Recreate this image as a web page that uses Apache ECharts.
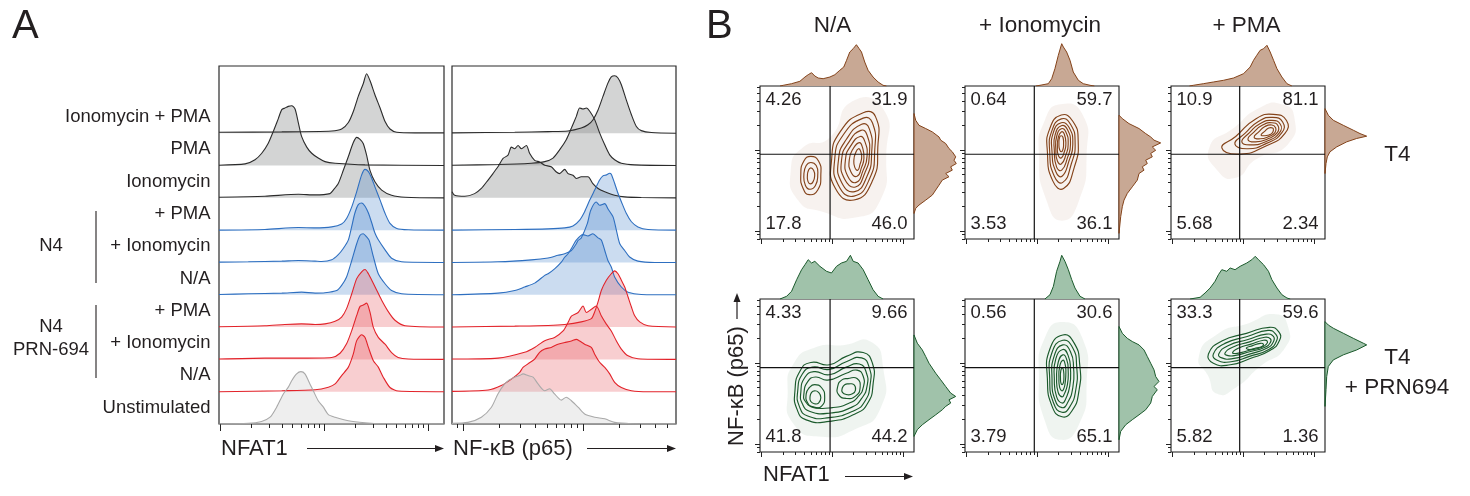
<!DOCTYPE html>
<html><head><meta charset="utf-8"><title>NFAT1 / NF-kB</title>
<script src="https://cdn.jsdelivr.net/npm/echarts@6.0.0/dist/echarts.min.js"></script>
<style>html,body{margin:0;padding:0;background:#fff;}#chart{width:1470px;height:496px;}</style>
</head><body><div id="chart"></div>
<script>
// ================= DATA =================
// Panel A: rows listed bottom -> top
const rowLabels = ['Unstimulated','N/A','+ Ionomycin','+ PMA','N/A','+ Ionomycin','+ PMA','Ionomycin','PMA','Ionomycin + PMA'];
const rowGroup  = ['unstim','prn','prn','prn','n4','n4','n4','ctl','ctl','ctl'];
// histogram heights ([position % of axis, height; 10 = one row])
const nfat1Hist = [
 [[0,0],[13,0.2],[18.9,0.8],[22.7,2.1],[25.6,5.2],[28.6,9.3],[30.8,11.4],[32.3,13.4],[34.5,15.5],[36.4,16.2],[38.2,15.5],[40.4,12.4],[41.9,10.3],[44.1,7.2],[46.4,5.2],[48.6,2.9],[51.6,2.1],[57.5,1.0],[64.9,0.4],[72.3,0.1],[100,0]],
 [[0,0],[27.9,0.3],[42.7,0.6],[48.6,1.4],[51.6,2.4],[54.5,5.0],[57.5,7.6],[59.7,11.7],[61.2,15.8],[63.4,17.6],[64.9,16.8],[66.4,13.7],[68.6,9.6],[70.8,7.6],[73.0,4.5],[76.0,1.3],[79.7,0.2],[100,0]],
 [[0,0.1],[20.4,0.4],[36.7,0.4],[50.1,0.6],[53.8,1.9],[56.7,4.8],[59,8.9],[61.2,13.6],[62.7,16.4],[64.1,16.8],[65.6,17.4],[67.1,14.6],[68.6,9.9],[70.8,6.8],[73.8,4.7],[76.7,2.1],[79.6,0.6],[84.1,0.1],[100,0]],
 [[0,0.1],[20.4,0.4],[29.3,0.8],[36.7,1.0],[42.7,0.8],[47.1,1.0],[51.6,1.8],[54.5,3.1],[56.7,5.7],[59,10.3],[61.2,15],[63.4,17.1],[64.9,17.8],[66.4,16.5],[67.9,14.5],[70.1,11.4],[72.3,8.3],[75.3,4.7],[78.2,2.1],[82.7,0.4],[100,0]],
 [[0,0.1],[13,0.3],[27.9,0.5],[36.7,0.8],[42.7,0.5],[47.1,0.6],[52.3,1.3],[54.5,2.9],[56.7,5.5],[59,10.6],[61.2,15.8],[62.7,18.4],[64.1,18.9],[65.6,17.9],[66.7,16.9],[68.6,11.8],[70.8,6.5],[73.8,3.4],[76.7,1.3],[81.2,0.3],[100,0]],
 [[0,0.1],[13,0.2],[27.9,0.4],[35.3,0.6],[42.7,0.4],[45.6,0.3],[50.1,0.8],[53,2.4],[55.3,4.4],[57.5,7],[59,11.2],[60.4,15.3],[61.9,17.9],[63.4,18.4],[64.9,17.4],[66.4,15.3],[67.9,12.2],[69.3,9.1],[70.8,7],[73.8,3.9],[76.7,1.3],[81.2,0.2],[100,0]],
 [[0,0],[20.4,0.2],[35.3,0.8],[42.7,0.7],[50.1,1.0],[54.5,1.9],[56.7,3.6],[59,7.2],[61.2,11.9],[63.4,17.1],[64.9,18.8],[66.4,18.1],[67.9,16],[69.3,13.4],[71.6,9.3],[73.8,5.2],[76,2.1],[79,0.5],[84.1,0.1],[100,0]],
 [[0,0.2],[20.4,0.5],[35.3,1.1],[42.7,0.9],[49.3,1.3],[50.8,2.4],[53,4.4],[55.3,8.6],[57.5,12.8],[59.7,17.1],[61.2,18.7],[62.7,18.1],[64.1,16.8],[65.6,13.2],[67.1,8.5],[69.3,5.0],[72.3,2.4],[76.7,0.8],[82.7,0.2],[100,0]],
 [[0,0.1],[11.6,0.5],[16,1.8],[19,3.8],[21.9,6.9],[24.1,10.5],[26.4,14.6],[27.9,17.3],[29.3,17.8],[30.8,18.3],[32.3,18.5],[33.8,17.5],[35.3,13.1],[36.7,9],[39,5.7],[41.2,3.8],[44.1,2.3],[47.1,1.2],[51.6,0.7],[64.9,0.2],[100,0]],
 [[0,0.3],[27.9,0.4],[50.1,0.7],[54.5,1.3],[57.5,3.3],[59.7,6.7],[61.9,11.4],[64.1,15.3],[65.6,18.4],[67.1,16.3],[69.3,11.9],[71.6,7.8],[73.8,3.6],[76,1.3],[79,0.3],[87.1,0.1],[100,0.1]]
];
const nfkbHist = [
 [[0,0.2],[7.1,0.5],[13.1,2.1],[17.6,5.2],[20.5,9.3],[23.5,12.4],[25.7,13.7],[28,14.5],[30.2,15],[31.7,15.5],[33.9,15],[36.2,14.5],[38.4,12.4],[41.4,10.3],[43.6,10.9],[45.8,9.3],[48.8,7.4],[51,8.3],[53.3,7.2],[56.3,5.2],[59.2,3.1],[63.7,2.1],[68.2,1.6],[72.6,0.5],[80.1,0.1],[100,0]],
 [[0,0.1],[16.1,0.5],[22,1.9],[26.5,3.9],[30.2,6],[31.7,7.5],[33.9,8.6],[36.9,10.1],[39.1,12.2],[41.4,13.2],[44.3,13.7],[47.3,14.7],[50.3,15.2],[53.3,15.7],[55.5,16.2],[57,15.7],[59.2,14.7],[62.2,13.7],[63.7,11.6],[65.9,9.1],[68.2,7.5],[70.4,5.5],[72.6,2.9],[75.6,1.3],[80.1,0.3],[87.5,0],[100,0]],
 [[0,0.1],[20.5,0.4],[32.4,2.2],[36.9,3.7],[41.4,5.8],[45.8,6.8],[49.6,8.8],[51.8,11.4],[53.3,13.4],[56.3,14.5],[58.5,16.5],[60,14.5],[62.2,15.5],[64.4,16.5],[66.7,13.4],[68.9,10.9],[71.1,8.8],[73.4,5.7],[75.6,3.2],[78.6,1.1],[83,0.2],[100,0]],
 [[0,0],[28,0.3],[42.9,0.5],[50.3,0.8],[57.7,1.6],[62.2,2.6],[63.7,4.7],[65.2,7.8],[66.7,11.4],[68.9,14.5],[71.1,16.5],[72.6,17.4],[74.1,16.5],[75.6,14.5],[77.1,12.4],[78.6,9.3],[80.1,6.2],[81.5,3.6],[83.8,1.6],[87.5,0.4],[100,0]],
 [[0,0],[20.5,0.5],[28,1.3],[32.4,2.4],[36.9,3.6],[41.4,6],[42.9,6.5],[45.8,8],[48.8,10.1],[50.3,11.6],[51.8,12.7],[53.3,14.3],[55.5,16.9],[58.5,18.6],[60.7,18.2],[62.9,18.9],[65.2,17.6],[66.7,16.9],[68.2,13.7],[69.6,10.6],[71.1,8.6],[72.6,5.5],[75.6,2.4],[78.6,0.8],[84.5,0.1],[100,0]],
 [[0,0],[20.5,0.2],[35.4,0.8],[42.9,1.4],[47.3,2.2],[50.3,2.7],[53.3,3.7],[55.5,5.8],[56.3,6.8],[57.7,7.6],[60.4,12],[61.9,16.1],[64.4,18.7],[65.9,17.7],[68.2,18.2],[69.6,16.6],[71.9,14.1],[73.4,9.9],[74.9,5.8],[77.1,3.7],[79.3,1.7],[83,0.4],[90.5,0],[100,0]],
 [[0,0],[28,0.2],[42.9,0.4],[50.3,0.7],[54,1.3],[57,3.1],[59.2,5.7],[61.5,9.3],[63.7,12.4],[65.9,15.5],[67.4,16.8],[68.9,17.1],[70.4,17.6],[71.1,17.3],[72.6,14.5],[74.1,11.4],[75.6,8.8],[77.8,5.2],[80.1,2.6],[83,1],[87.5,0.2],[100,0]],
 [[0,1.9],[1.2,0.8],[5.7,0.5],[10.1,1.3],[13.1,2.9],[16.1,5.5],[18.3,7.5],[20.5,9.6],[22.8,12.2],[25,13.2],[26.5,15.7],[28,15.2],[29.5,16.2],[31,15.2],[33.2,16.2],[34.7,13.7],[36.9,11.6],[39.1,11.1],[41.4,10.1],[44.3,9.6],[46.6,8],[48,7.5],[50.3,8.8],[51.8,7.5],[54,7],[55.5,6],[57.7,6.5],[60.7,6.5],[62.9,4.4],[65.2,2.9],[68.2,1.9],[72.6,0.8],[77.1,0.3],[84.5,0.1],[100,0]],
 [[0,0.1],[20.5,0.3],[35.4,0.7],[41.4,1.2],[45.1,2.3],[48.1,4.9],[51,8],[53.3,11.6],[55.5,15.2],[57,17.8],[58.5,17.5],[60,17.8],[61.5,16.8],[63.7,14.2],[65.9,10.1],[68.2,6.4],[70.4,3.3],[72.6,1.8],[75.6,0.7],[81.5,0.2],[100,0]],
 [[0,0.1],[28,0.3],[42.9,0.5],[51.8,0.7],[57.7,1.6],[60.7,2.6],[62.9,4.1],[65.2,7.2],[67.4,11.4],[69.6,15.5],[71.1,17.4],[72.6,17.8],[74.1,17.1],[75.6,15],[77.8,10.3],[80.1,5.7],[82.3,2.1],[84.5,0.8],[89,0.2],[100,0]]
];
const tickMultipliers = [1,2,3,4,5,6,7,8,9];   // log-decade tick marks

// Panel B
const colTitles = ['N/A','+ Ionomycin','+ PMA'];
const rowTitles = [['T4'],['T4','+ PRN694']];
// quadrant percentages: [top-left, top-right, bottom-left, bottom-right]
const quadT4 = [['4.26','31.9','17.8','46.0'],['0.64','59.7','3.53','36.1'],['10.9','81.1','5.68','2.34']];
const quadPrn = [['4.33','9.66','41.8','44.2'],['0.56','30.6','3.79','65.1'],['33.3','59.6','5.82','1.36']];
const gateX = [45.5, 45, 44.6];
const gateY = [55.4, 55.1];
// marginal histograms, top: [NFAT1 %, height]; right: [NF-kB %, height]
const topT4 = [
 [[13,0],[15.1,0.7],[20.5,2.3],[25.9,4.7],[29.2,9],[31.3,11.3],[33.5,13.3],[35.6,10],[37.8,8],[41,7.3],[45.4,9],[48.6,11.3],[51.8,15.7],[54.4,19],[56.2,25.7],[58.3,34],[60.5,37.3],[62.6,41.3],[64.4,37.3],[65.9,34],[68,24],[70.2,15.7],[73.4,9],[76.7,4],[79.9,0.7],[82.1,0]],
 [[46,0],[48.7,0.7],[54.1,2.3],[56.3,7.3],[58.4,17.3],[60.6,30.7],[62.8,42.3],[63.9,39],[66,34],[68.2,25.7],[70.3,14],[73.6,5.7],[76.8,2.3],[81.2,0.7],[84,0]],
 [[12,0],[14.5,0.7],[21,2.3],[27.5,4],[34.1,5.7],[40.6,8],[47.1,12.3],[51.4,19],[53.6,25.7],[55.7,30.7],[57.9,35.7],[60.1,37.3],[62.3,40.7],[64.4,34],[66.6,25.7],[68.8,17.3],[72,9],[75.3,2.3],[78.5,0]]
];
const topPrn = [
 [[13,0],[17.3,2.7],[20.5,7.7],[23.8,19.3],[27,29.3],[29.2,34.3],[31.3,39.3],[33.5,36],[35.6,37.7],[38.9,32.7],[43.2,27.7],[46.4,26],[49.7,32.7],[52.9,36],[56.2,37.7],[58.7,43.7],[60.5,37.7],[63.7,36],[67,29.3],[70.2,19.3],[73.4,9.3],[76.7,2.7],[79.9,0]],
 [[51.9,0],[55.2,4.3],[57.4,12.7],[59.5,27.7],[61.7,37.7],[62.8,43.7],[64.9,37.7],[67.1,29.3],[69.3,19.3],[71.4,11],[74.7,2.7],[77.9,0]],
 [[12.4,0],[18.9,1.7],[22.1,6],[25.4,11],[28.6,17.7],[30.8,24.3],[33,29.3],[36.2,27.7],[38.4,31],[41.6,29.3],[44.9,32.7],[49.2,36],[52.5,39.3],[54.7,42.7],[56.8,39.3],[60.1,34.3],[63.3,27.7],[65.5,19.3],[68.8,11],[72,4.3],[75.3,1],[77.4,0]]
];
const rightT4 = [
 [[82,0],[77.6,1.7],[74.3,5],[72.2,11.7],[70,18.3],[66.7,25],[64.6,26.7],[62.4,31.7],[59.1,35],[57,38.3],[53.7,41.7],[51.5,40],[49.3,42.3],[47.2,36.7],[45,38.3],[42.8,31.7],[40.7,35],[38.5,28.3],[35.2,25],[32,21.7],[28.7,18.3],[25.4,11.7],[22.2,5],[20,1.7],[16.7,0]],
 [[80.9,0],[78.7,3.3],[75.4,10],[72.2,20],[68.9,26.7],[66.7,31.7],[64.6,35],[62.8,41.7],[60.2,33.3],[58,36.7],[55.9,31.7],[53.7,33.3],[51.5,26.7],[49.3,28.3],[47.2,23.3],[45,25],[42.8,20],[38.5,18.3],[34.1,13.3],[29.8,8.3],[25.4,5],[21.1,3.3],[14.6,1.7],[3.7,0]],
 [[85.2,0],[80.9,3.3],[77.6,8.3],[74.3,18.3],[71.1,28.3],[68.9,35],[67.2,41.7],[65.7,31.7],[63.5,21.7],[60.2,11.7],[57,5],[53.7,2.3],[49.3,1],[42.8,0]]
];
const rightPrn = [
 [[76.5,0],[71.1,3.3],[66.7,8.3],[62.4,11.7],[58,15],[51.5,21.7],[47.2,26.7],[42.8,31.7],[38.5,36.7],[36.3,41.7],[34.1,35],[32,36.7],[29.8,31.7],[27.6,28.3],[24.3,21.7],[21.1,15],[17.8,8.3],[14.6,3.3],[10.2,0]],
 [[82,0],[77.6,3.3],[74.3,8.3],[72.2,13.3],[70,20],[66.7,25],[62.4,28.3],[58,31.7],[53.7,35],[49.3,36.7],[46.1,40],[42.8,35],[40.7,38.3],[36.3,33.3],[32,31.7],[27.6,26.7],[24.3,20],[21.1,13.3],[17.8,6.7],[13.5,1.7],[8,0]],
 [[85.2,0],[83,3.3],[80.9,8.3],[77.6,18.3],[74.3,28.3],[71.1,38.3],[70,41.7],[66.7,31.7],[63.5,18.3],[60.2,8.3],[55.9,3.3],[49.3,1.7],[40.7,1],[29.8,0]]
];
// contour rings [NFAT1 %, NF-kB %]
const contourT4NA = [
 [[67,82.5],[75,80],[76.5,60],[73,38],[61,25.5],[49,33],[46.5,52],[52,70]],
 [[67,79],[73,76],[74.5,58],[71,39],[61,28],[51,35],[48.5,52],[54,68]],
 [[66,75],[71,72],[72.5,56],[69.5,41],[61.5,31],[53,37],[51,52],[56,65]],
 [[65.5,71],[69.5,68],[71,55],[68,43],[62,34],[55,39],[53,52],[57.5,63]],
 [[65,67],[68,64],[69.5,54],[67,45],[62.5,37],[57,41],[55.5,52],[59,61]],
 [[64.5,63],[66.5,60],[67.5,53],[66,47],[63,41],[59,44],[58,52],[60.5,59]],
 [[64,59],[65.5,57],[66,53],[65,49],[63.5,45],[61.5,47],[61,52],[62,56]],
 [[33,54],[38,51],[39.5,42],[37.5,32],[32,29],[28,33],[26.5,42],[28.5,51]],
 [[33,50],[36.5,48],[37.5,42],[36,35],[32.5,32.5],[29.5,35],[28.5,42],[30,48]],
 [[33,46.5],[34.8,45],[35.5,41.5],[34.5,37.5],[32.8,36],[31.2,37.5],[30.8,41.5],[31.5,45]]
];
const contourT4Iono = [
 [[62.5,81],[70,77],[73.5,64],[71,47],[64,33],[57,38],[53.5,57],[55,72]],
 [[62.5,78.5],[68.5,75],[71.5,63],[69,49],[63.5,37],[58,41],[55,57],[56.5,71]],
 [[62.5,76],[67.5,73],[70,62],[67.5,51],[63,41],[59,44],[56.5,57],[57.5,70]],
 [[62.5,74],[66.5,71.5],[68.5,62],[66.5,53],[62.8,45],[59.5,47],[58,58],[58.5,68]],
 [[62.5,72],[65.5,70],[67,62],[65.5,55],[62.5,49],[60,51],[59,58],[59.5,67]],
 [[62.5,70],[64.5,68.5],[65.5,62],[64.5,57],[62.5,53],[60.5,55],[60,60],[60.5,66]],
 [[62.5,67.5],[63.6,66.5],[64,62],[63.6,58.5],[62.5,57],[61.4,58.5],[61,62],[61.4,66.5]]
];
const contourT4PMA = [
 [[33,59.5],[42,67],[55,78.5],[66.5,81.5],[75,77.5],[74,69],[62,61],[45,55.5]],
 [[41.5,62],[48,69],[57,77],[66,79.5],[72.5,76.5],[72,69.5],[62,62.5],[50,59]],
 [[46,63.5],[51,69.5],[58,75.5],[65.5,77.5],[71,75],[70.5,69.5],[62.5,64],[52,61.5]],
 [[50,65],[54,70],[59.5,74.5],[65.5,76],[69.5,74],[69,69.5],[63,65.5],[55,63.5]],
 [[54,66.5],[57,70],[61,73.5],[65.5,74.5],[68,72.5],[67.5,69.5],[63.5,67],[58,65.5]],
 [[58.5,68],[61,70.5],[63.5,72.5],[66,72.5],[66.5,71],[65.5,69],[63.5,68],[61,67.5]]
];
const contourPrnNA = [
 [[22.7,40],[26,53],[33,58.5],[45,57],[56,62.5],[67,65],[73,58],[73.5,45],[70,32],[62,25],[45,20],[30,21],[24,28]],
 [[24.5,40],[27.5,51],[34,55.5],[45,54],[56,59],[66,61.5],[71,55],[71.5,44],[68,33],[61,27],[45,22.5],[31,23.5],[25.5,30]],
 [[26.5,39],[29,48.5],[35,52.5],[45,50.5],[56,55.5],[64.5,57.5],[69,52],[69.5,43],[66,35],[60,29.5],[46,25.5],[32.5,26.5],[27.5,31.5]],
 [[28.5,38],[31,46],[36,49],[44,47],[56,51.5],[63,53.5],[67,49.5],[67,42],[64,36.5],[58,32],[47,29],[34.5,29.5],[29.5,33]],
 [[35.5,44],[40,42],[42,36],[40,30],[35,29],[31,32],[30,38],[32,42]],
 [[35.5,40],[38,39],[39.5,35.5],[38,32],[35.5,31.5],[33,33],[32.5,36],[33.5,39]],
 [[57,48],[63,48],[65,42],[62,36.5],[56,35],[51,37.5],[50.5,43],[53,47]],
 [[57.5,44.5],[61,44],[62,40.5],[60,38],[56.5,37.5],[53.5,39],[53.5,42],[55,44]]
];
const contourPrnIono = [
 [[63.5,76.5],[71,71],[74.5,57],[74,40],[69.5,27],[63,23],[56.5,30],[53.5,48],[55,67]],
 [[63.5,73],[70,68],[72.5,56],[72,41],[68,29.5],[63,26],[57.5,32],[55,48],[56.5,65]],
 [[63.5,70],[68.5,65.5],[70.5,55],[70,42],[66.5,32],[63,29],[58.5,34],[56.5,48],[58,63]],
 [[63.5,67],[67,63],[68.5,54],[68,43],[65.5,35],[63,32],[59.5,36],[58,48],[59,61]],
 [[63.5,63.5],[66,60.5],[67,53],[66.5,44],[64.5,38],[63,36],[60.5,39],[59.5,48],[60.5,58.5]],
 [[63.5,60],[65,57.5],[65.5,52],[65,45],[64,41],[62.8,40],[61.5,42],[61,48],[61.5,56]],
 [[63.2,55],[64,53],[64.2,48],[63.8,45],[63,44],[62.3,45],[62,48],[62.2,53]]
];
const contourPrnPMA = [
 [[24.3,64],[33,72.5],[49,77.5],[64,81.5],[70,78.5],[70.5,73],[64.5,66.5],[51,61],[38.5,57],[27.5,58]],
 [[27.5,64],[35,71],[49.5,75.5],[63,79.5],[68,77],[68.5,72.5],[63.5,67],[51,62.5],[39,59],[30,60]],
 [[31,64],[37,69.5],[50,73.5],[62,77],[66.5,75.5],[66.5,72],[62.5,68],[51,64],[40,61],[33,61.5]],
 [[35,64.5],[40,68.5],[51,72],[61,75],[64.5,74],[64.5,71.5],[61,68.5],[51,65.5],[41,63],[37,63]],
 [[40,65],[44,68],[52,70.5],[60,73],[62.5,72.5],[62,70.5],[59,68.5],[51,66.5],[43,64.5]],
 [[49,68],[53,69.5],[58,71],[60,70.5],[59,69],[55,68],[51,67]]
];
// sparse-event (dot) regions around the contours
const dustT4 = [
 [[60,90],[80,85],[82,55],[78,25],[62,14],[40,18],[25,25],[20,45],[28,60],[45,66]],
 [[62,88],[76,82],[79,55],[74,25],[63,12],[53,25],[48,55],[52,78]],
 [[25,60],[40,72],[58,86],[72,88],[80,80],[76,62],[55,52],[42,40],[30,45]]
];
const dustPrn = [
 [[18,40],[22,58],[35,68],[55,70],[72,72],[80,55],[78,28],[62,15],[40,10],[22,18]],
 [[63,85],[76,75],[79,45],[74,18],[62,8],[52,20],[48,50],[52,75]],
 [[18,62],[30,77],[50,84],[68,90],[76,82],[74,68],[58,56],[42,42],[30,38],[24,50]]
];

// ================= STYLE / LAYOUT =================
const FONT = '"Liberation Sans", Arial, Helvetica, sans-serif';
const INK = '#231f20';
const STYLE = {
  ctl:    {line:'#2b2b2b', fill:'rgba(140,143,143,0.38)'},
  n4:     {line:'#2e6fc0', fill:'rgba(70,130,200,0.28)'},
  prn:    {line:'#e2232a', fill:'rgba(230,80,85,0.28)'},
  unstim: {line:'#a9a9a9', fill:'rgba(190,190,190,0.26)'}
};
const PAL = {
  t4:  {line:'#84431a', fill:'#c8a894', dust:'rgba(139,74,31,0.07)'},
  prn: {line:'#1b5a2c', fill:'#a0c2aa', dust:'rgba(29,94,47,0.07)'}
};

const grids = [], xAxes = [], yAxes = [], series = [], graphics = [];

function logTicks(lo, hi, mults){
  const out = [];
  for (let e = -2; e <= 3; e++) for (const m of mults){
    const v = Math.log10(m) + e;
    if (v >= lo - 1e-9 && v <= hi + 1e-9) out.push(v);
  }
  return out;
}
function dataAxis(gi, min, max){
  return {type:'value', gridIndex:gi, min:min, max:max, show:false, axisLine:{onZero:false}};
}
function tickAxis(gi, lo, hi, vals, len, pos){
  return {type:'value', gridIndex:gi, min:lo, max:hi, position:pos, silent:true,
    axisLine:{show:false, onZero:false}, splitLine:{show:false}, axisLabel:{show:false},
    axisTick:{show:true, inside:false, length:len, lineStyle:{color:'#222', width:1}, customValues:vals}};
}
function text(x, y, str, size, align, vAlign, extra){
  return Object.assign({type:'text', x:x, y:y, silent:true,
    style:{text:str, font:size + 'px ' + FONT, fill:INK, align:align||'center', verticalAlign:vAlign||'middle',
           textAlign:align||'center', textVerticalAlign:vAlign||'middle'}}, extra||{});
}
function arrow(x1, y1, x2, y2){
  const dx = x2 - x1, dy = y2 - y1, L = Math.hypot(dx, dy), ux = dx / L, uy = dy / L;
  const hl = 9, hw = 3.5;
  const bx = x2 - ux * hl, by = y2 - uy * hl;
  graphics.push({type:'line', silent:true, shape:{x1:x1, y1:y1, x2:bx, y2:by}, style:{stroke:INK, lineWidth:1.2}});
  graphics.push({type:'polygon', silent:true, shape:{points:[[x2,y2],[bx - uy*hw, by + ux*hw],[bx + uy*hw, by - ux*hw]]}, style:{fill:INK}});
}
const labelPoint = {type:'scatter', silent:true, animation:false, clip:false, symbol:'circle', symbolSize:1,
  itemStyle:{color:'rgba(0,0,0,0)', opacity:1}};

// ---------- Panel A ----------
const A_TOP = 66, A_H = 358, A_ROWMAX = 110.8;
const aPlots = [
  {left:219, width:225, lo:-0.0096, hi:2.154, hist:nfat1Hist},
  {left:452, width:224, lo:-0.0917, hi:1.775, hist:nfkbHist}
];
aPlots.forEach((p, pi) => {
  const gi = grids.length;
  grids.push({left:p.left, top:A_TOP, width:p.width, height:A_H, show:true, borderColor:'#2a2a2a', borderWidth:1.2, backgroundColor:'rgba(0,0,0,0)'});
  const xi = xAxes.length;
  xAxes.push(dataAxis(gi, 0, 100));
  xAxes.push(tickAxis(gi, p.lo, p.hi, logTicks(p.lo, p.hi, [1]), 7, 'bottom'));
  xAxes.push(tickAxis(gi, p.lo, p.hi, logTicks(p.lo, p.hi, tickMultipliers.slice(1)), 4, 'bottom'));
  const yi = yAxes.length;
  yAxes.push(dataAxis(gi, 0, A_ROWMAX));
  for (let k = 9; k >= 0; k--){
    const st = STYLE[rowGroup[k]];
    series.push({type:'line', xAxisIndex:xi, yAxisIndex:yi, silent:true, animation:false,
      data:p.hist[k].map(d => [d[0], k * 10 + d[1]]), smooth:0.25, symbol:'none',
      lineStyle:{color:st.line, width:1.1}, areaStyle:{color:st.fill, opacity:1, origin:k * 10}});
  }
  if (pi === 0){
    series.push(Object.assign({}, labelPoint, {xAxisIndex:xi, yAxisIndex:yi,
      data:rowLabels.map((t, k) => ({value:[0, k * 10 + 4.9], name:t})),
      label:{show:true, position:[-8, 0], align:'right', verticalAlign:'middle', formatter:'{b}',
             fontFamily:FONT, fontSize:18.5, color:INK, opacity:1}}));
  }
});
graphics.push(text(12, 27, 'A', 40, 'left', 'middle'));
graphics.push(text(51, 246, 'N4', 18.5));
graphics.push(text(51, 327, 'N4', 18.5));
graphics.push(text(51, 350, 'PRN-694', 18.5));
graphics.push({type:'line', silent:true, shape:{x1:96, y1:211, x2:96, y2:283}, style:{stroke:INK, lineWidth:1.1}});
graphics.push({type:'line', silent:true, shape:{x1:96, y1:305, x2:96, y2:378}, style:{stroke:INK, lineWidth:1.1}});
graphics.push(text(221, 449, 'NFAT1', 22, 'left'));
arrow(307, 448.5, 444, 448.5);
graphics.push(text(453, 449, 'NF-κB (p65)', 22, 'left'));
arrow(587, 448.5, 676, 448.5);

// ---------- Panel B ----------
const B_COLS = [760, 965, 1171], B_ROWS = [86, 299], B_W = 154, B_H = 153, MARG = 46;
const bxLo = -0.024, bxHi = 2.154, byLo = -0.099, byHi = 1.79;
const bData = [
  {pal:PAL.t4, quad:quadT4, top:topT4, right:rightT4, rings:[contourT4NA, contourT4Iono, contourT4PMA], dust:dustT4},
  {pal:PAL.prn, quad:quadPrn, top:topPrn, right:rightPrn, rings:[contourPrnNA, contourPrnIono, contourPrnPMA], dust:dustPrn}
];
function polySeries(xi, yi, polys, style, smooth){
  return {type:'custom', xAxisIndex:xi, yAxisIndex:yi, silent:true, animation:false, clip:false,
    data:polys.map((r, i) => [i, i]),
    renderItem:(params, api) => ({type:'polygon',
      shape:{points:polys[params.dataIndex].map(pt => api.coord(pt)), smooth:smooth},
      style:style})};
}
bData.forEach((row, r) => {
  for (let c = 0; c < 3; c++){
    const L = B_COLS[c], T = B_ROWS[r];
    // main plot
    const gi = grids.length;
    grids.push({left:L, top:T, width:B_W, height:B_H, show:true, borderColor:'#1a1a1a', borderWidth:1.1, backgroundColor:'rgba(0,0,0,0)'});
    const xi = xAxes.length, yi = yAxes.length;
    xAxes.push(dataAxis(gi, 0, 100));
    xAxes.push(tickAxis(gi, bxLo, bxHi, logTicks(bxLo, bxHi, [1]), 5, 'bottom'));
    xAxes.push(tickAxis(gi, bxLo, bxHi, logTicks(bxLo, bxHi, tickMultipliers.slice(1)), 3, 'bottom'));
    yAxes.push(dataAxis(gi, 0, 100));
    yAxes.push(tickAxis(gi, byLo, byHi, logTicks(byLo, byHi, [1]), 5, 'left'));
    yAxes.push(tickAxis(gi, byLo, byHi, logTicks(byLo, byHi, tickMultipliers.slice(1)), 3, 'left'));
    series.push(polySeries(xi, yi, [row.dust[c]], {fill:row.pal.dust, stroke:'none'}, 0.6));
    series.push(polySeries(xi, yi, row.rings[c], {fill:'none', stroke:row.pal.line, lineWidth:1.15}, 0.55));
    series.push({type:'line', xAxisIndex:xi, yAxisIndex:yi, silent:true, animation:false, symbol:'none',
      data:[[gateX[c], 0], [gateX[c], 100]], lineStyle:{color:'#111', width:1.2}});
    series.push({type:'line', xAxisIndex:xi, yAxisIndex:yi, silent:true, animation:false, symbol:'none',
      data:[[0, gateY[r]], [100, gateY[r]]], lineStyle:{color:'#111', width:1.2}});
    const q = row.quad[c];
    const qPos = [
      {value:[0,100], label:{position:[6,14.5], align:'left'}},
      {value:[100,100], label:{position:[-6,14.5], align:'right'}},
      {value:[0,0], label:{position:[6,-15], align:'left'}},
      {value:[100,0], label:{position:[-6,-15], align:'right'}}
    ];
    series.push(Object.assign({}, labelPoint, {xAxisIndex:xi, yAxisIndex:yi, data:qPos,
      label:{show:true, verticalAlign:'middle', fontFamily:FONT, fontSize:18.5, color:INK, opacity:1,
             formatter:(p) => q[p.dataIndex]}}));
    // top marginal (NFAT1)
    const gt = grids.length;
    grids.push({left:L, top:T - MARG, width:B_W, height:MARG, show:false});
    const xt = xAxes.length, yt = yAxes.length;
    xAxes.push(dataAxis(gt, 0, 100));
    yAxes.push(dataAxis(gt, 0, MARG));
    series.push({type:'line', xAxisIndex:xt, yAxisIndex:yt, silent:true, animation:false, symbol:'none',
      data:row.top[c], lineStyle:{color:row.pal.line, width:1}, areaStyle:{color:row.pal.fill, opacity:1}});
    // right marginal (NF-kB)
    const gr = grids.length;
    grids.push({left:L + B_W, top:T, width:MARG, height:B_H, show:false});
    const xr = xAxes.length, yr = yAxes.length;
    xAxes.push(dataAxis(gr, 0, MARG));
    yAxes.push(dataAxis(gr, 0, 100));
    const rp = row.right[c];
    const poly = [[0, rp[0][0]]].concat(rp.map(d => [d[1], d[0]])).concat([[0, rp[rp.length - 1][0]]]);
    series.push(polySeries(xr, yr, [poly], {fill:row.pal.fill, stroke:row.pal.line, lineWidth:1}, 0));
  }
});
graphics.push(text(706, 27, 'B', 40, 'left', 'middle'));
graphics.push(text(832.5, 26, colTitles[0], 22.5));
graphics.push(text(1040, 26, colTitles[1], 22.5));
graphics.push(text(1246.5, 26, colTitles[2], 22.5));
graphics.push(text(1397.5, 155, rowTitles[0][0], 22.5));
graphics.push(text(1397.5, 358, rowTitles[1][0], 22.5));
graphics.push(text(1397, 388, rowTitles[1][1], 22.5));
graphics.push(text(763, 475, 'NFAT1', 22, 'left'));
arrow(845, 476.5, 913, 476.5);
graphics.push(text(0, 0, 'NF-κB (p65)', 22, 'center', 'middle', {x:737, y:386, rotation:Math.PI / 2}));
arrow(737, 319, 737, 293);

const chart = echarts.init(document.getElementById('chart'), null, {renderer:'canvas'});
chart.setOption({
  animation:false,
  backgroundColor:'#ffffff',
  textStyle:{fontFamily:FONT},
  grid:grids, xAxis:xAxes, yAxis:yAxes, series:series,
  graphic:{elements:graphics}
});
</script></body></html>
